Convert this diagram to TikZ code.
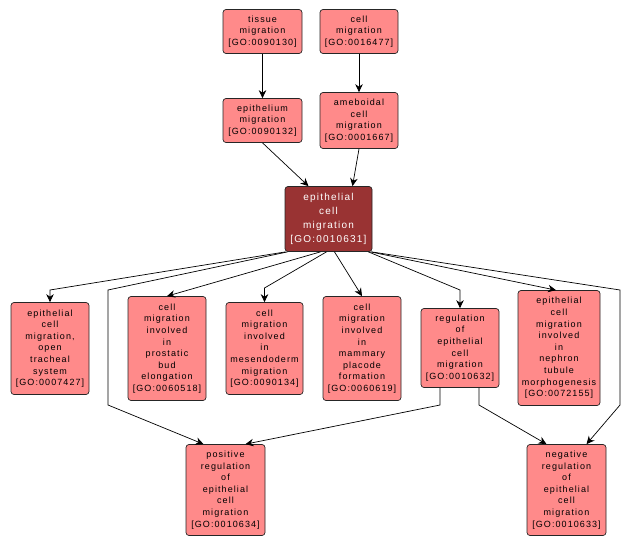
\documentclass[tikz,border=0pt]{standalone}
\usepackage{fontspec}
\usetikzlibrary{arrows.meta}
\newfontfamily\gofont[LetterSpace=12]{Liberation Sans}
\definecolor{termfill}{RGB}{255,138,138}
\definecolor{mainfill}{RGB}{153,51,51}

\begin{document}
\begin{tikzpicture}[x = 1pt, y = -1pt]
\tikzstyle{termStyle}=[shape = rectangle, rounded corners = 3pt, draw = black!85, line width = 0.7pt, fill = termfill, align = center, inner sep = 1pt, font = \gofont\fontsize{9}{11.6}\selectfont]
\tikzstyle{mainStyle}=[termStyle, fill = mainfill, text = white, font = \gofont\fontsize{10}{13.8}\selectfont]
\tikzstyle{EdgeStyle}=[-{Stealth[length = 8pt, width = 7.5pt]}, line width = 0.7pt, black]
\useasboundingbox (0,0) rectangle (632,546);
\node[termStyle, minimum width = 79pt, minimum height = 44pt] (v0) at (262.5,31.5) {tissue\\migration\\{[GO:0090130]}};
\node[termStyle, minimum width = 78pt, minimum height = 44pt] (v1) at (359,31.5) {cell\\migration\\{[GO:0016477]}};
\node[termStyle, minimum width = 79pt, minimum height = 44pt] (v2) at (262.5,120.5) {epithelium\\migration\\{[GO:0090132]}};
\node[termStyle, minimum width = 78pt, minimum height = 56pt] (v3) at (359,120.5) {ameboidal\\cell\\migration\\{[GO:0001667]}};
\node[mainStyle, minimum width = 87pt, minimum height = 65pt] (v4) at (328.5,219) {epithelial\\cell\\migration\\{[GO:0010631]}};
\node[termStyle, minimum width = 78pt, minimum height = 92pt] (v5) at (50,348.5) {epithelial\\cell\\migration,\\open\\tracheal\\system\\{[GO:0007427]}};
\node[termStyle, minimum width = 78pt, minimum height = 104pt] (v6) at (167,348.5) {cell\\migration\\involved\\in\\prostatic\\bud\\elongation\\{[GO:0060518]}};
\node[termStyle, minimum width = 77pt, minimum height = 92pt] (v7) at (264.5,348.5) {cell\\migration\\involved\\in\\mesendoderm\\migration\\{[GO:0090134]}};
\node[termStyle, minimum width = 78pt, minimum height = 104pt] (v8) at (362,348.5) {cell\\migration\\involved\\in\\mammary\\placode\\formation\\{[GO:0060619]}};
\node[termStyle, minimum width = 78pt, minimum height = 79pt] (v9) at (460,348) {regulation\\of\\epithelial\\cell\\migration\\{[GO:0010632]}};
\node[termStyle, minimum width = 82pt, minimum height = 115pt] (v10) at (559,348) {epithelial\\cell\\migration\\involved\\in\\nephron\\tubule\\morphogenesis\\{[GO:0072155]}};
\node[termStyle, minimum width = 79pt, minimum height = 91pt] (v11) at (225.5,490) {positive\\regulation\\of\\epithelial\\cell\\migration\\{[GO:0010634]}};
\node[termStyle, minimum width = 79pt, minimum height = 91pt] (v12) at (566.5,490) {negative\\regulation\\of\\epithelial\\cell\\migration\\{[GO:0010633]}};
\draw[EdgeStyle] (v0) -- (v2);
\draw[EdgeStyle] (v1) -- (v3);
\draw[EdgeStyle] (v2.south) -- ([xshift = -20pt]v4.north);
\draw[EdgeStyle] (v3.south) -- ([xshift = 24pt]v4.north);
\draw[EdgeStyle] ([xshift = 1pt]v4.south west) -- (50,290) -- (v5.north);
\draw[EdgeStyle] ([xshift = 3pt]v4.south west) -- (108,290) -- (108,405) -- ([xshift = -22pt]v11.north);
\draw[EdgeStyle] ([xshift = -8pt]v4.south) -- (v6.north);
\draw[EdgeStyle] ([xshift = -2pt]v4.south) -- (264.5,288) -- (v7.north);
\draw[EdgeStyle] ([xshift = 6pt]v4.south) -- (v8.north);
\draw[EdgeStyle] ([xshift = -4pt]v4.south east) -- (460,290) -- (v9.north);
\draw[EdgeStyle] ([xshift = -2pt]v4.south east) -- ([xshift = -3pt]v10.north);
\draw[EdgeStyle] ([xshift = -1pt]v4.south east) -- (620,290) -- (620,405) -- ([xshift = 20pt]v12.north);
\draw[EdgeStyle] ([xshift = -20pt]v9.south) -- (440,405) -- ([xshift = 20pt]v11.north);
\draw[EdgeStyle] ([xshift = 19pt]v9.south) -- (479,405) -- ([xshift = -20pt]v12.north);
\end{tikzpicture}
\end{document}
